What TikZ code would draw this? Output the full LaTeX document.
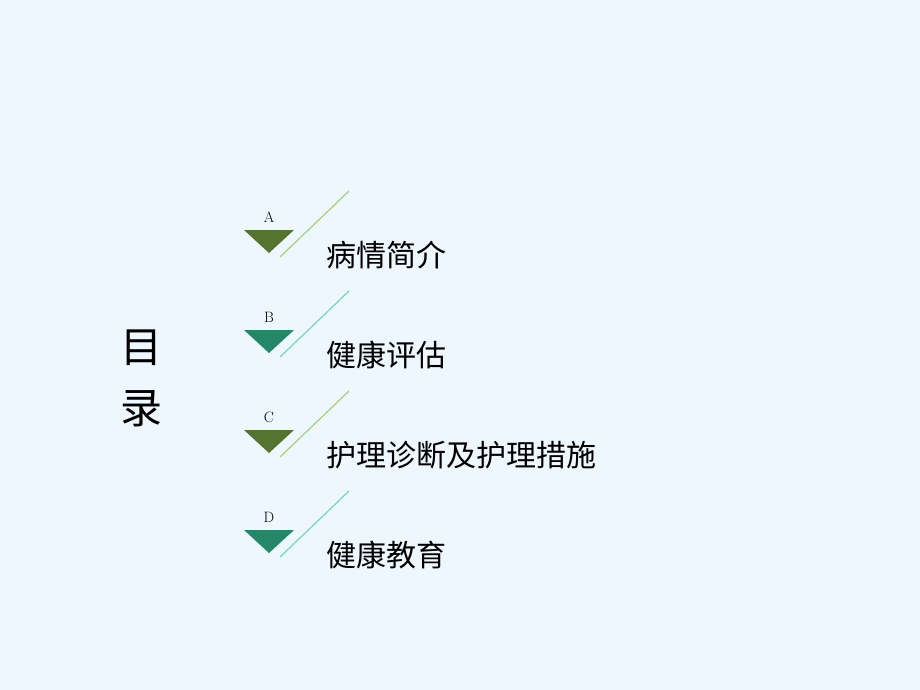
\documentclass[tikz,border=0pt]{standalone}
\usepackage{fontspec}
\newfontfamily\cjk{Noto Sans CJK SC}
\definecolor{bg}{HTML}{EEF6FE}
\definecolor{olv}{HTML}{557430}
\definecolor{tea}{HTML}{238768}
\definecolor{lolv}{HTML}{A6D07A}
\definecolor{ltea}{HTML}{72D8C2}
\begin{document}
\begin{tikzpicture}[x=1pt,y=-1pt,
  item/.style={anchor=west,inner sep=0,font=\cjk\fontsize{30}{30}\selectfont},
  let/.style={inner sep=0,font=\fontsize{15}{15}\selectfont}]
\fill[bg] (0,0) rectangle (920,690);
\useasboundingbox (0,0) rectangle (920,690);
\node[inner sep=0,font=\cjk\fontsize{42}{42}\selectfont] (m1) at (141,348) {目};
\node[inner sep=0,font=\cjk\fontsize{42}{42}\selectfont] (m2) at (141,409) {录};
\foreach \i/\L/\t/\c/\lc in {0/A/病情简介/olv/lolv,1/B/健康评估/tea/ltea,2/C/护理诊断及护理措施/olv/lolv,3/D/健康教育/tea/ltea}{
  \begin{scope}[yshift=-\i*100]
  \fill[\c] (244,230) -- (294,230) -- (269,253) -- cycle;
  \node[let] (l\i) at (269,217) {\L};
  \coordinate (s\i) at (280,257);
  \coordinate (e\i) at (349,191);
  \draw[\lc,line width=1.2] (s\i) -- (e\i);
  \node[item] (t\i) at (326,255) {\t};
  \end{scope}}
\end{tikzpicture}
\end{document}
